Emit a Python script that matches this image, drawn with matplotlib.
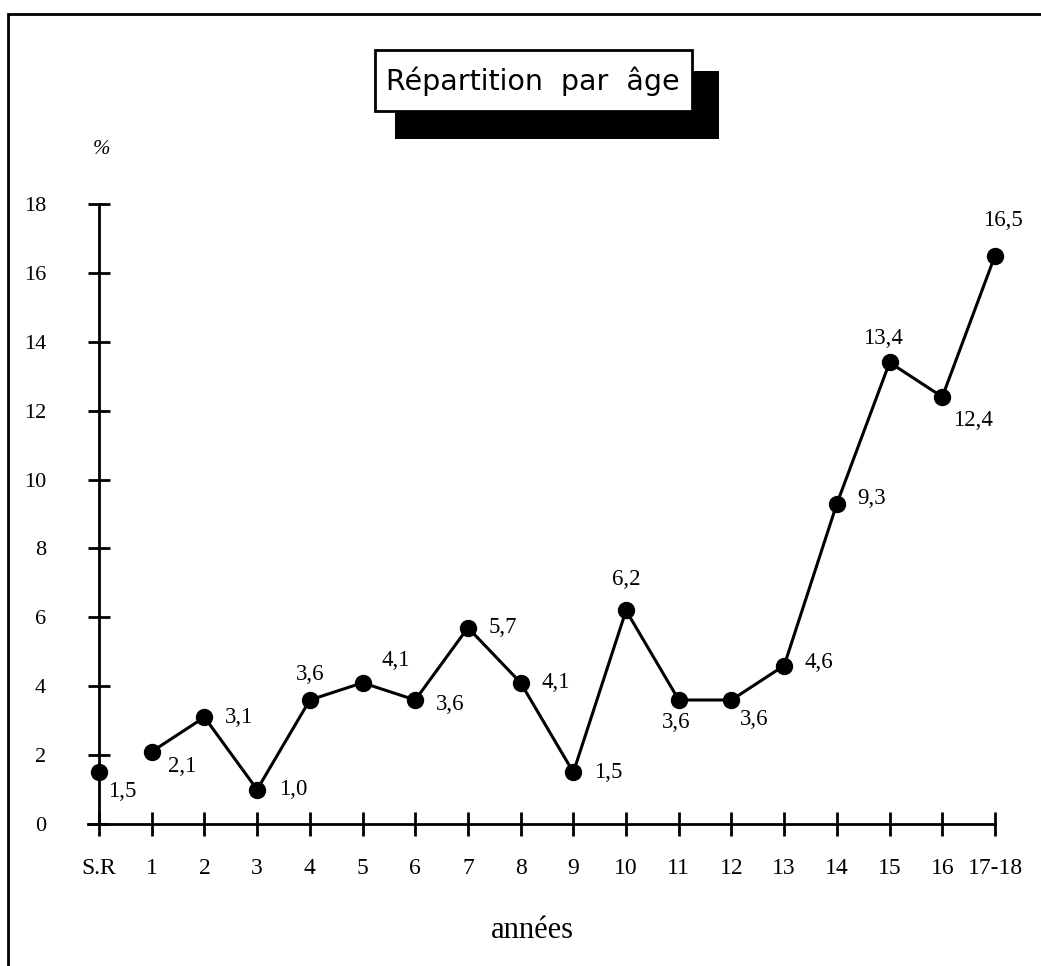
import matplotlib
matplotlib.use('Agg')
from matplotlib import pyplot as plt
from matplotlib.patches import Rectangle

# data
categories = ['S.R', '1', '2', '3', '4', '5', '6', '7', '8', '9',
              '10', '11', '12', '13', '14', '15', '16', '17-18']
values = [1.5, 2.1, 3.1, 1.0, 3.6, 4.1, 3.6, 5.7, 4.1, 1.5,
          6.2, 3.6, 3.6, 4.6, 9.3, 13.4, 12.4, 16.5]
y_ticks = [0, 2, 4, 6, 8, 10, 12, 14, 16, 18]

# label offsets in points (dx, dy), placed by hand like the original
offsets = [(17, -14), (22, -11), (25, 0), (26, 0), (0, 18), (24, 16),
           (25, -3), (25, 0), (25, 0), (25, 0), (0, 22), (-2, -16),
           (16, -14), (25, 2), (25, 4), (-5, 17), (22, -17), (6, 25)]

W, H = 1041, 966
fig = plt.figure(figsize=(W / 100, H / 100), dpi=100)
serif = ['Liberation Serif', 'DejaVu Serif']


def px_rect(x0, y0, x1, y1, **kw):
    return Rectangle((x0 / W, 1 - y1 / H), (x1 - x0) / W, (y1 - y0) / H,
                     transform=fig.transFigure, **kw)


# outer frame (right and bottom edges fall outside the picture)
fig.patches.append(px_rect(8, 14, 1060, 990, fill=False, edgecolor='black',
                           linewidth=2))

# title box with drop shadow
fig.patches.append(px_rect(395, 71, 719, 139, facecolor='black',
                           edgecolor='black', linewidth=0))
fig.patches.append(px_rect(375, 50, 692, 111, facecolor='white',
                           edgecolor='black', linewidth=2))
fig.text(533 / W, 1 - 81 / H, 'Répartition  par  âge', ha='center',
         va='center', fontsize=20.5, family=['DejaVu Sans'])

# axes placement: x=0 at px 99, x=17 at px 995; y=0 at px 824, y=18 at px 204
left_px, right_px = 88, 1030
top_px, bot_px = 170, 841
ax = fig.add_axes([left_px / W, 1 - bot_px / H,
                   (right_px - left_px) / W, (bot_px - top_px) / H])
xs = list(range(len(categories)))
ux = (995 - 99) / 17
uy = (824 - 204) / 18
ax.set_xlim(-(99 - left_px) / ux, (right_px - 99) / ux)
ax.set_ylim(-(bot_px - 824) / uy, (824 - top_px) / uy)

ax.plot(xs[1:], values[1:], color='black', linewidth=2.2, zorder=3,
        clip_on=False)
ax.plot(xs, values, 'o', color='black', markersize=11.5, zorder=4,
        clip_on=False)

for x, v, (dx, dy) in zip(xs, values, offsets):
    ax.annotate(f'{v:.1f}'.replace('.', ','), (x, v), xytext=(dx, dy),
                textcoords='offset points', ha='center', va='center',
                fontsize=16.5, family=serif)

for side in ['top', 'right']:
    ax.spines[side].set_visible(False)
ax.spines['left'].set_position(('data', 0))
ax.spines['bottom'].set_position(('data', 0))
ax.spines['left'].set_bounds(0, 18)
ax.spines['bottom'].set_bounds(ax.get_xlim()[0], 17)
ax.spines['left'].set_linewidth(2)
ax.spines['bottom'].set_linewidth(2)

ax.set_xticks(xs)
ax.set_xticklabels(categories, family=serif, fontsize=17)
ax.set_yticks(y_ticks)
ax.set_yticklabels([str(t) for t in y_ticks], family=serif, fontsize=16)
ax.tick_params(axis='x', direction='inout', length=17, width=2, pad=16)
ax.tick_params(axis='y', direction='inout', length=16, width=2, pad=30)

fig.text(101 / W, 1 - 150 / H, '%', ha='center', va='center', fontsize=15,
         family=serif, style='italic')
fig.text(532 / W, 1 - 930 / H, 'années', ha='center', va='center',
         fontsize=22, family=serif)

fig.savefig('out.png', dpi=100)
